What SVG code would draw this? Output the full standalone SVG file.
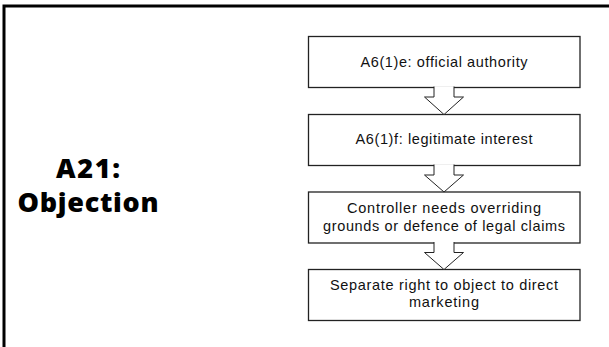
<svg xmlns="http://www.w3.org/2000/svg" width="609" height="347" viewBox="0 0 609 347">
<style>
.box{fill:#fff;stroke:#222;stroke-width:1.3}
.arr{fill:#fff;stroke:#222;stroke-width:1}
.t{font-family:"Liberation Sans",Arial,sans-serif;font-size:14.5px;fill:#111;text-anchor:middle;font-variant-ligatures:none}
.title{font-family:"Open Sans","Noto Sans",sans-serif;font-size:27px;font-weight:800;fill:#000;text-anchor:middle;font-variant-ligatures:none}
</style>
<rect width="609" height="347" fill="#fff"/>
<path d="M4,347 V6 H609" fill="none" stroke="#000" stroke-width="3"/>
<g id="title"><text class="title" x="88" y="178" textLength="64" lengthAdjust="spacing">A21:</text>
<text class="title" x="88" y="212" textLength="141" lengthAdjust="spacing">Objection</text></g>
<g id="n1"><rect class="box" x="308.5" y="36.5" width="271.5" height="51"/>
<text class="t" x="444" y="67" textLength="167" lengthAdjust="spacing">A6(1)e: official authority</text></g>
<g id="n2"><rect class="box" x="308.5" y="114.5" width="271.5" height="51"/>
<text class="t" x="444" y="144" textLength="177" lengthAdjust="spacing">A6(1)f: legitimate interest</text></g>
<g id="n3"><rect class="box" x="308.5" y="192" width="271.5" height="51"/>
<text class="t" x="444" y="213" textLength="194" lengthAdjust="spacing">Controller needs overriding</text>
<text class="t" x="444" y="231" textLength="242" lengthAdjust="spacing">grounds or defence of legal claims</text></g>
<g id="n4"><rect class="box" x="308.5" y="269.5" width="271.5" height="51"/>
<text class="t" x="444" y="290" textLength="228" lengthAdjust="spacing">Separate right to object to direct</text>
<text class="t" x="444" y="307" textLength="70" lengthAdjust="spacing">marketing</text></g>
<g id="connectors">
<path class="arr" d="M434,86.5 V97 H424.5 L444,114.5 L463.5,97 H454 V86.5"/>
<path class="arr" d="M434,164.5 V175 H424.5 L444,192 L463.5,175 H454 V164.5"/>
<path class="arr" d="M434,242 V252.5 H424.5 L444,269.5 L463.5,252.5 H454 V242"/>
</g>
</svg>
